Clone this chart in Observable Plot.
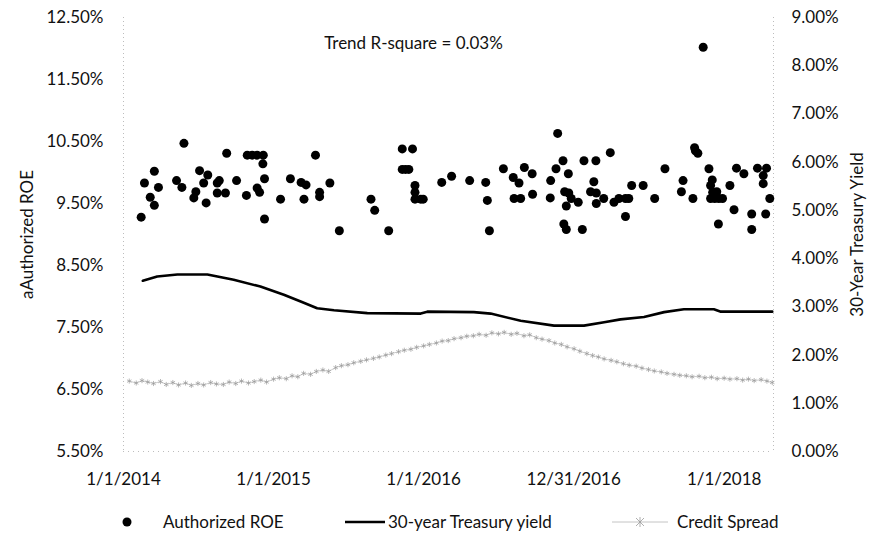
<!DOCTYPE html>
<html><head><meta charset="utf-8">
<script src="https://cdn.jsdelivr.net/npm/d3@7"></script>
<script src="https://cdn.jsdelivr.net/npm/@observablehq/plot@0.6"></script>
<style>
body{margin:0;background:#fff;font-family:Lato,"Noto Sans",sans-serif;}
#wrap{position:relative;width:880px;height:540px;overflow:hidden;}
#legend{position:absolute;top:509px;left:0;width:880px;height:26px;font-size:17px;color:#111;}
#legend .it{position:absolute;top:0;line-height:26px;white-space:nowrap;}
</style></head><body>
<div id="wrap"><div id="chart"></div>
<div id="legend">
  <span class="it" style="left:121px"><svg width="12" height="26"><circle cx="6" cy="13" r="4.5" fill="#000"/></svg></span>
  <span class="it" style="left:163px">Authorized ROE</span>
  <span class="it" style="left:345px"><svg width="42" height="26"><line x1="0" x2="40" y1="13" y2="13" stroke="#000" stroke-width="2.6"/></svg></span>
  <span class="it" style="left:388px">30-year Treasury yield</span>
  <span class="it" style="left:612px"><svg width="58" height="26"><line x1="0" x2="56" y1="13" y2="13" stroke="#c4c4c4" stroke-width="1"/><path d="M24,9L32,17M24,17L32,9M28,8V18" stroke="#9a9a9a" stroke-width="0.8"/></svg></span>
  <span class="it" style="left:677px">Credit Spread</span>
</div></div>
<script>
// Authorized ROE (left axis, %)
const roeDates = ["2014-02-13","2014-02-21","2014-03-17","2014-03-07","2014-03-17","2014-03-27","2014-05-28","2014-05-10","2014-05-23","2014-07-05","2014-07-25","2014-07-15","2014-06-26","2014-06-21","2014-07-21","2014-09-09","2014-08-17","2014-08-22","2014-08-17","2014-09-06","2014-10-03","2014-10-27","2014-10-29","2014-11-10","2014-11-22","2014-12-07","2014-12-06","2014-12-10","2014-11-22","2014-11-28","2014-12-10","2015-01-18","2015-02-11","2015-04-13","2015-03-09","2015-03-21","2015-05-18","2015-04-23","2015-04-23","2015-03-16","2015-06-10","2015-08-26","2015-09-04","2015-10-08","2015-11-10","2015-12-05","2015-11-10","2015-11-18","2015-11-26","2015-12-11","2015-12-11","2015-12-11","2015-12-25","2015-12-31","2016-02-14","2016-03-09","2016-04-22","2016-05-31","2016-06-04","2016-06-09","2016-07-13","2016-08-06","2016-08-20","2016-08-08","2016-08-24","2016-09-02","2016-09-21","2016-09-22","2016-11-05","2016-11-04","2016-11-22","2016-12-05","2016-11-18","2016-12-18","2016-12-09","2016-12-19","2016-12-13","2016-12-25","2017-01-11","2016-12-07","2016-12-13","2017-01-21","2017-01-25","2017-02-23","2017-03-30","2017-02-18","2017-02-10","2017-02-24","2017-03-14","2017-02-24","2017-04-08","2017-04-20","2017-05-06","2017-05-14","2017-05-06","2017-05-21","2017-06-18","2017-07-16","2017-08-10","2017-09-23","2017-09-19","2017-10-17","2017-10-21","2017-10-23","2017-10-29","2017-11-25","2017-12-03","2017-11-29","2017-12-04","2017-11-29","2017-12-09","2017-12-14","2017-12-19","2017-12-28","2017-12-18","2018-01-15","2018-01-25","2018-01-31","2018-02-18","2018-03-09","2018-03-09","2018-03-23","2018-04-14","2018-04-06","2018-04-06","2018-04-12","2018-04-22","2017-11-11"];
const roeValues = [9.28,9.83,10.02,9.60,9.47,9.76,10.47,9.87,9.76,10.03,9.96,9.83,9.69,9.59,9.51,10.31,9.83,9.87,9.67,9.67,9.87,9.63,10.28,10.28,10.28,10.28,10.14,9.90,9.75,9.68,9.25,9.57,9.90,10.28,9.84,9.80,9.83,9.68,9.61,9.57,9.06,9.57,9.39,9.06,10.38,10.38,10.05,10.05,10.05,9.79,9.68,9.57,9.57,9.57,9.84,9.94,9.87,9.84,9.55,9.06,10.06,9.92,9.83,9.58,9.58,10.08,9.98,9.65,9.87,9.59,10.63,10.19,10.06,9.98,9.69,9.67,9.46,9.58,9.52,9.17,9.08,9.08,10.19,10.19,10.32,9.85,9.69,9.67,9.58,9.50,9.52,9.58,9.58,9.58,9.29,9.79,9.79,9.58,10.06,9.87,9.69,9.58,10.40,10.35,10.31,10.06,9.88,9.79,9.68,9.58,9.58,9.69,9.58,9.58,9.17,9.79,9.40,10.07,9.98,9.33,9.08,10.07,10.07,9.82,9.95,9.33,9.58,12.02];

// 30-year Treasury yield (right axis, %)
const treasuryDates = ["2014-02-17","2014-03-24","2014-05-12","2014-07-24","2014-09-26","2014-11-30","2015-01-26","2015-03-08","2015-04-17","2015-05-28","2015-08-17","2015-12-25","2016-01-10","2016-05-02","2016-06-12","2016-08-24","2016-11-13","2017-01-25","2017-03-15","2017-04-24","2017-06-20","2017-08-08","2017-09-25","2017-12-07","2017-12-24","2018-04-28"];
const treasuryValues = [3.54,3.63,3.67,3.67,3.56,3.42,3.25,3.11,2.97,2.93,2.87,2.86,2.90,2.89,2.86,2.71,2.61,2.61,2.68,2.74,2.79,2.89,2.95,2.95,2.90,2.90];

// Credit Spread (right axis, %)
const creditDates = ["2014-01-15","2014-02-01","2014-02-15","2014-03-01","2014-03-15","2014-04-01","2014-04-15","2014-05-01","2014-05-15","2014-06-01","2014-06-15","2014-07-01","2014-07-15","2014-08-01","2014-08-15","2014-09-01","2014-09-15","2014-10-01","2014-10-15","2014-11-01","2014-11-15","2014-12-01","2014-12-15","2015-01-01","2015-01-15","2015-02-01","2015-02-15","2015-03-01","2015-03-15","2015-04-01","2015-04-15","2015-05-01","2015-05-15","2015-06-01","2015-06-15","2015-07-01","2015-07-15","2015-08-01","2015-08-15","2015-09-01","2015-09-15","2015-10-01","2015-10-15","2015-11-01","2015-11-15","2015-12-01","2015-12-15","2016-01-01","2016-01-15","2016-02-01","2016-02-15","2016-03-01","2016-03-15","2016-04-01","2016-04-15","2016-05-01","2016-05-15","2016-06-01","2016-06-15","2016-07-01","2016-07-15","2016-08-01","2016-08-15","2016-09-01","2016-09-15","2016-10-01","2016-10-15","2016-11-01","2016-11-15","2016-12-01","2016-12-15","2017-01-01","2017-01-15","2017-02-01","2017-02-15","2017-03-01","2017-03-15","2017-04-01","2017-04-15","2017-05-01","2017-05-15","2017-06-01","2017-06-15","2017-07-01","2017-07-15","2017-08-01","2017-08-15","2017-09-01","2017-09-15","2017-10-01","2017-10-15","2017-11-01","2017-11-15","2017-12-01","2017-12-15","2018-01-01","2018-01-15","2018-02-01","2018-02-15","2018-03-01","2018-03-15","2018-04-01","2018-04-15","2018-04-28"];
const creditValues = [1.46,1.42,1.47,1.44,1.41,1.45,1.39,1.43,1.38,1.42,1.37,1.41,1.38,1.43,1.40,1.39,1.44,1.41,1.46,1.42,1.45,1.48,1.44,1.50,1.53,1.51,1.57,1.55,1.62,1.60,1.66,1.69,1.66,1.74,1.78,1.80,1.84,1.87,1.90,1.93,1.96,2.00,2.03,2.07,2.10,2.12,2.16,2.19,2.22,2.25,2.29,2.30,2.34,2.36,2.39,2.40,2.43,2.41,2.46,2.44,2.47,2.43,2.45,2.40,2.42,2.36,2.33,2.30,2.25,2.22,2.17,2.13,2.08,2.03,1.99,1.96,1.92,1.89,1.86,1.82,1.79,1.77,1.73,1.70,1.67,1.65,1.62,1.60,1.58,1.57,1.55,1.56,1.53,1.54,1.51,1.52,1.50,1.51,1.48,1.50,1.47,1.49,1.46,1.43];

// Axes
const xTickDates = ["2014-01-01","2015-01-01","2016-01-01","2016-12-31","2018-01-01"];
const xTickLabels = ["1/1/2014","1/1/2015","1/1/2016","12/31/2016","1/1/2018"];
const xDomainDates = ["2014-01-01","2018-05-01"];
const leftTicks = [5.5,6.5,7.5,8.5,9.5,10.5,11.5,12.5];
const rightTicks = [0,1,2,3,4,5,6,7,8,9];
const leftDomain = [5.5,12.5];
const rightDomain = [0,9];
const titleText = "Trend R-square = 0.03%";
const leftTitle = "aAuthorized ROE";
const rightTitle = "30-Year Treasury Yield";

const parse = d3.utcParse("%Y-%m-%d");
const toLeft = v => leftDomain[0] + (v - rightDomain[0]) * (leftDomain[1]-leftDomain[0]) / (rightDomain[1]-rightDomain[0]);
const fromLeft = v => rightDomain[0] + (v - leftDomain[0]) * (rightDomain[1]-rightDomain[0]) / (leftDomain[1]-leftDomain[0]);

const roe = roeDates.map((d,i)=>({date:parse(d), value:roeValues[i]}));
const treasury = treasuryDates.map((d,i)=>({date:parse(d), value:toLeft(treasuryValues[i])}));
const credit = creditDates.map((d,i)=>({date:parse(d), value:toLeft(creditValues[i])}));
const xTicks = xTickDates.map(parse);
const xDomain = xDomainDates.map(parse);
const labelFor = d => xTickLabels[xTicks.findIndex(t => +t === +d)];

const chart = Plot.plot({
  width: 880, height: 490,
  marginLeft: 123, marginRight: 107, marginTop: 17, marginBottom: 39,
  style: {fontFamily: "Lato, 'Noto Sans', sans-serif", fontSize: "17px", color: "#111", background: "#fff", overflow: "visible"},
  x: {type: "utc", domain: xDomain},
  y: {domain: leftDomain},
  marks: [
    Plot.ruleX(xDomain, {stroke: "#bdbdbd", strokeDasharray: "1,3"}),
    Plot.ruleY([leftDomain[0]], {stroke: "#bdbdbd", strokeDasharray: "1,4"}),
    Plot.axisX(xTicks, {tickSize: 0, tickPadding: 21, tickFormat: labelFor, label: null}),
    Plot.axisY(leftTicks, {anchor: "left", tickSize: 0, tickPadding: 20, tickFormat: d => d.toFixed(2) + "%",
      label: leftTitle, labelAnchor: "center", labelOffset: 103, labelArrow: "none"}),
    Plot.axisY(rightTicks.map(toLeft), {anchor: "right", tickSize: 0, tickPadding: 18, tickFormat: d => fromLeft(d).toFixed(2) + "%",
      label: rightTitle, labelAnchor: "center", labelOffset: 89, labelArrow: "none"}),
    Plot.line(credit, {x: "date", y: "value", stroke: "#c4c4c4", strokeWidth: 0.9}),
    Plot.dot(credit, {x: "date", y: "value", symbol: "asterisk", r: 2.4, stroke: "#9a9a9a", strokeWidth: 0.7}),
    Plot.line(treasury, {x: "date", y: "value", stroke: "#000", strokeWidth: 2.6}),
    Plot.dot(roe, {x: "date", y: "value", r: 4.5, fill: "#000", stroke: "none"}),
    Plot.text([titleText], {frameAnchor: "top", dx: -35, dy: 26, fontSize: 17, fill: "#111", lineAnchor: "middle"})
  ]
});
document.getElementById("chart").appendChild(chart);
</script>
</body></html>
